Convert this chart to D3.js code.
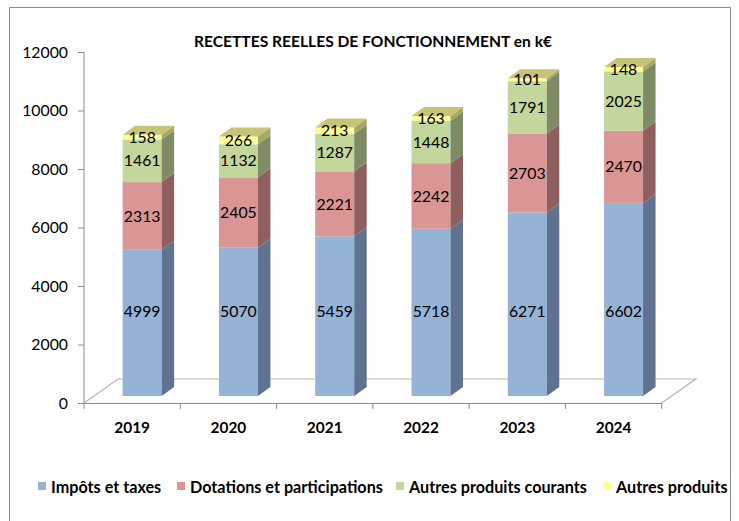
<!DOCTYPE html>
<html><head><meta charset="utf-8">
<script src="https://cdn.jsdelivr.net/npm/d3@7"></script>
<style>body{margin:0;background:#fff}svg{display:block;font-family:Lato,"Open Sans",sans-serif}</style>
</head><body><svg id="c" width="739" height="521"></svg>
<script>
const years = ["2019","2020","2021","2022","2023","2024"];
const impots = [4999,5070,5459,5718,6271,6602];
const dotations = [2313,2405,2221,2242,2703,2470];
const autresCourants = [1461,1132,1287,1448,1791,2025];
const autresProduits = [158,266,213,163,101,148];
const seriesNames = ["Impôts et taxes","Dotations et participations","Autres produits courants","Autres produits"];
const yTicks = [0,2000,4000,6000,8000,10000,12000];
const title = "RECETTES REELLES DE FONCTIONNEMENT en k€";

const front = ["#95B3D7","#D99694","#C3D69B","#FFFF99"];
const side  = ["#5F7391","#8E5F5E","#7E8B65","#A8A866"];
const topC  = ["#B5C8E2","#E5B5B4","#D5E2BA","#C7C477"];

const svg = d3.select("#c");
svg.append("rect").attr("x",9.5).attr("y",7.5).attr("width",721).attr("height",530)
  .attr("fill","#fff").attr("stroke","#8c8c8c");

const x = d3.scaleBand().domain(years).range([84,661.7]).padding(0);
const y = d3.scaleLinear().domain([0,12000]).range([403,52]);

// floor
const fdx = 34, fdy = -24;
const floor = [[84,403],[84+fdx,403+fdy],[661.7+fdx,403+fdy],[661.7,403]];
svg.append("path").attr("d", d3.line()(floor)).attr("fill","none").attr("stroke","#b3b3b3").attr("stroke-width",1.2);

// axes
const yAxis = svg.append("g").attr("transform","translate(84,0)")
  .call(d3.axisLeft(y).tickValues(yTicks).tickSize(6).tickPadding(10).tickFormat(d3.format("d")));
yAxis.select(".domain").attr("stroke","#8c8c8c").attr("d","M0,52V403");
yAxis.selectAll(".tick line").attr("stroke","#8c8c8c");
yAxis.selectAll("text").attr("font-size",15.8).attr("fill","#000").attr("font-family","Lato");

const xAxis = svg.append("g").attr("transform","translate(0,403)")
  .call(d3.axisBottom(x).tickSize(0).tickPadding(19));
xAxis.select(".domain").attr("stroke","#8c8c8c");
xAxis.selectAll("text").attr("font-size",15.4).attr("font-weight","bold").attr("fill","#000").attr("font-family","Lato");
// category boundary ticks
svg.append("g").selectAll("line").data(d3.range(years.length+1)).join("line")
  .attr("x1",i=>84+i*x.bandwidth()).attr("x2",i=>84+i*x.bandwidth())
  .attr("y1",403).attr("y2",409).attr("stroke","#8c8c8c");

// bars
const offX = 10, offY = -7, bw = 39, ddx = 12.5, ddy = -9;
const series = [impots,dotations,autresCourants,autresProduits];
const bars = svg.append("g");
const labels = [];
years.forEach((yr,i)=>{
  const x0 = x(yr) + x.bandwidth()/2 + offX - bw/2;
  let cum = 0;
  series.forEach((s,k)=>{
    const v = s[i];
    const yb = y(cum)+offY, yt = y(cum+v)+offY;
    bars.append("rect").attr("x",x0).attr("y",yt).attr("width",bw).attr("height",yb-yt).attr("fill",front[k]);
    const xr = x0+bw;
    bars.append("path").attr("d",d3.line()([[xr,yb],[xr+ddx,yb+ddy],[xr+ddx,yt+ddy],[xr,yt]])+"Z").attr("fill",side[k]);
    if(k===series.length-1){
      bars.append("path").attr("d",d3.line()([[x0,yt],[x0+ddx,yt+ddy],[xr+ddx,yt+ddy],[xr,yt]])+"Z").attr("fill",topC[k]);
    }
    const ly = k===0 ? y(2900)+offY : (yb+yt)/2;
    labels.push({x:x0+bw/2, y:ly, t:v});
    cum += v;
  });
});
svg.append("g").selectAll("text").data(labels).join("text")
  .attr("x",d=>d.x).attr("y",d=>d.y).attr("dy","0.36em").attr("text-anchor","middle")
  .attr("font-size",15.8).attr("fill","#000").text(d=>d.t);

// title
svg.append("text").attr("x",373).attr("y",47).attr("text-anchor","middle")
  .attr("font-size",15.6).attr("font-weight","bold").text(title);

// legend
const legX = [38,177,396,603];
const leg = svg.append("g").selectAll("g").data(seriesNames).join("g")
  .attr("transform",(d,i)=>`translate(${legX[i]},0)`);
leg.append("rect").attr("x",0).attr("y",482).attr("width",8).attr("height",8).attr("fill",(d,i)=>front[i]);
leg.append("text").attr("x",13).attr("y",492.5).attr("font-size",16.2).attr("font-weight","bold").text(d=>d);
</script></body></html>
